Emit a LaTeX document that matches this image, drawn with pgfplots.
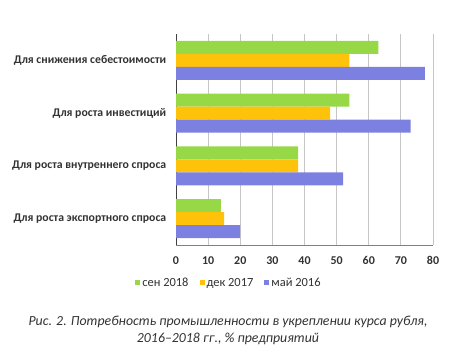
\documentclass[border=0pt]{standalone}
\usepackage{fontspec}
\setmainfont{Carlito}
\usepackage{pgfplots}
\pgfplotsset{compat=1.18}
\definecolor{cgreen}{RGB}{150,216,70}
\definecolor{corange}{RGB}{255,194,10}
\definecolor{cblue}{RGB}{124,128,224}
\definecolor{ctext}{RGB}{50,50,50}
\begin{document}
\begin{tikzpicture}
\path[use as bounding box] (0,0) rectangle (456bp,358bp);
\begin{axis}[
  at={(176bp,113bp)}, anchor=south west,
  scale only axis, width=257bp, height=211bp,
  xbar, xmin=0, xmax=80, ymin=-0.5, ymax=3.5,
  bar width=0.245,
  xtick={0,10,...,80}, ytick={0,1,2,3},
  yticklabels={Для роста экспортного спроса, Для роста внутреннего спроса, Для роста инвестиций, Для снижения себестоимости},
  xmajorgrids, major grid style={draw=gray!45, line width=0.8pt},
  axis x line*=bottom, axis y line*=left,
  x axis line style={-, draw=gray, line width=1pt},
  y axis line style={-, draw=black!75, line width=1pt},
  tick style={draw=none},
  /pgf/number format/assume math mode=true,
  xticklabel style={font=\fontsize{12}{13}\selectfont\bfseries, text=ctext, yshift=-8bp},
  yticklabel style={font=\fontsize{11.8}{13}\selectfont\bfseries, text=ctext, xshift=-2bp},
  legend style={at={(0.206,-0.18)}, anchor=center, draw=none, legend columns=3,
    font=\fontsize{12.5}{14}\selectfont, text=ctext,
    /tikz/every even column/.append style={column sep=9bp},
    nodes={inner xsep=2bp}},
  legend image code/.code={\fill[#1] (0bp,-2.5bp) rectangle (5bp,2.5bp);},
]
\addplot[fill=cgreen, draw=none, bar shift=0.245] coordinates {(14,0) (38,1) (54,2) (63,3)};
\addplot[fill=corange, draw=none, bar shift=0] coordinates {(15,0) (38,1) (48,2) (54,3)};
\addplot[fill=cblue, draw=none, bar shift=-0.245] coordinates {(20,0) (52,1) (73,2) (77.5,3)};
\legend{сен 2018, дек 2017, май 2016}
\end{axis}
\node[align=center, font=\fontsize{13.9}{17}\selectfont\itshape, text=ctext] at (228bp,27.5bp)
 {Рис. 2. Потребность промышленности в укреплении курса рубля,\\2016–2018 гг., \% предприятий};
\end{tikzpicture}
\end{document}
